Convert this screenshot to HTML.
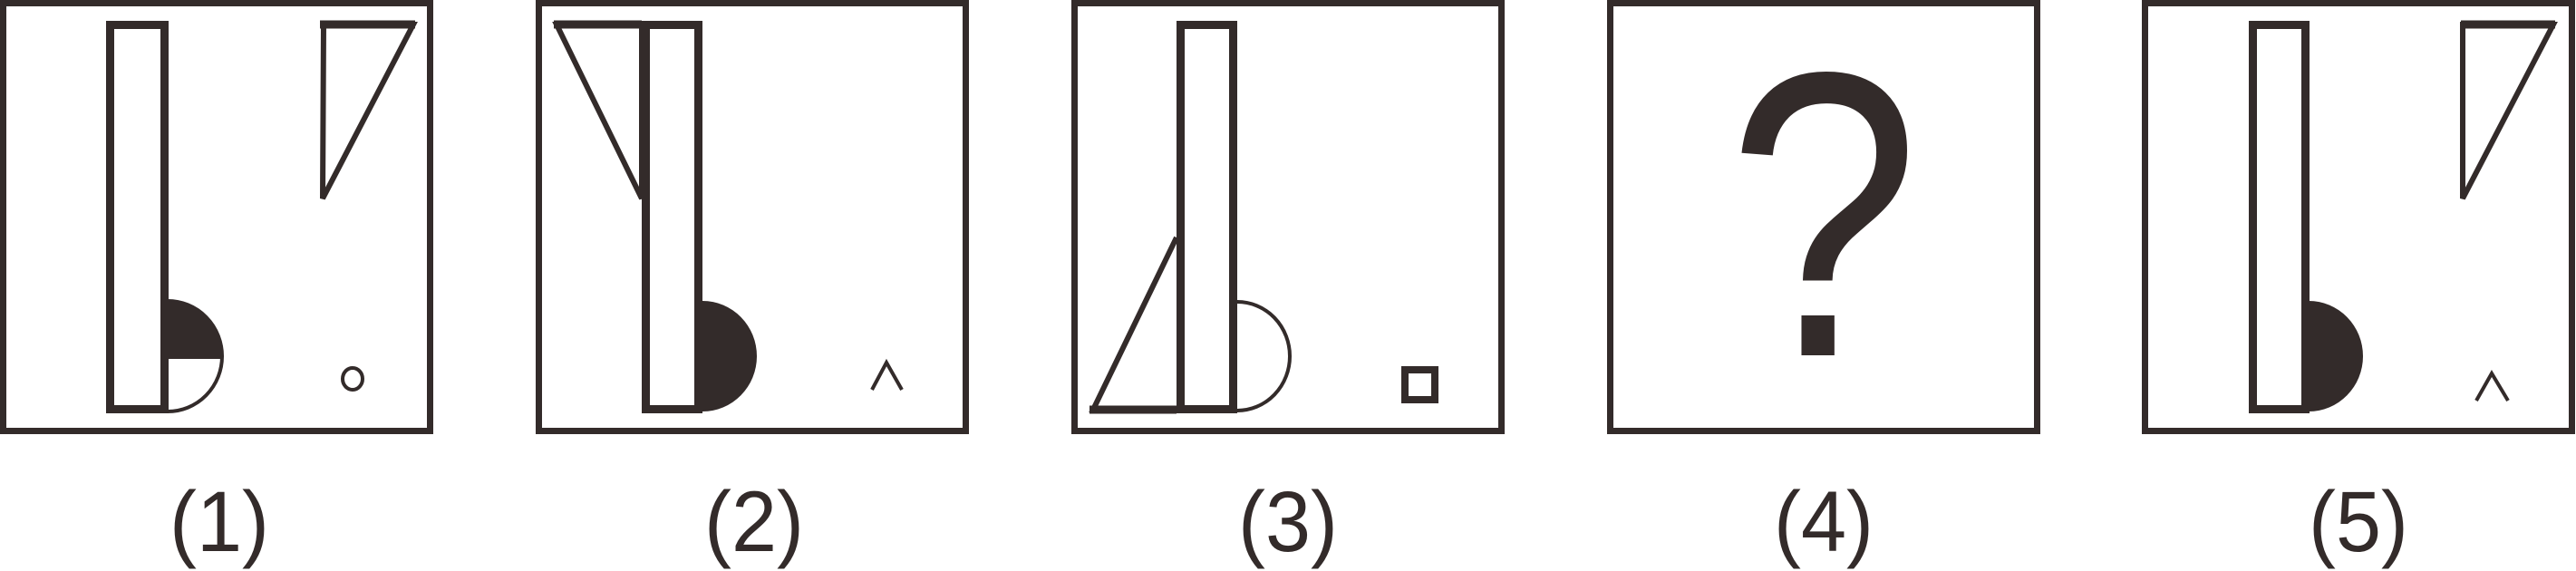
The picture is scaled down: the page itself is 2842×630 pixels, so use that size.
<!DOCTYPE html>
<html><head><meta charset="utf-8"><style>
html,body{margin:0;padding:0;background:#fff;}
svg{display:block;}
text{font-family:"Liberation Sans",sans-serif;fill:#332b2a;}
</style></head><body>
<svg width="2842" height="630" viewBox="0 0 2842 630">
<g stroke="#332b2a" fill="none">
<!-- Panel 1 -->
<g transform="translate(0,0)">
 <rect x="3.5" y="3.5" width="471" height="472" stroke-width="7" fill="#fff"/>
 <path d="M185,332 A60,61 0 0 1 185,454" stroke-width="4" fill="#fff"/>
 <path d="M185,332 A60,61 0 0 1 245,393 L185,393 Z" fill="#332b2a" stroke="none"/>
 <line x1="185" y1="394" x2="245" y2="394" stroke-width="4"/>
 <rect x="121.5" y="27.5" width="60" height="424" stroke-width="9" fill="#fff"/>
 <path d="M357,27 L456,27 L356,219 Z" stroke-width="6" stroke-linejoin="miter"/>
 <line x1="353" y1="27" x2="458" y2="27" stroke-width="9"/>
 <ellipse cx="389" cy="418" rx="11" ry="12" stroke-width="4"/>
</g>
<!-- Panel 2 -->
<g transform="translate(591,0)">
 <rect x="3.5" y="3.5" width="471" height="472" stroke-width="7" fill="#fff"/>
 <path d="M184,332 A60,61 0 0 1 184,454 Z" fill="#332b2a" stroke="none"/>
 <path d="M23,27 L117,27 L117,219 Z" stroke-width="6"/>
 <line x1="20" y1="27" x2="117" y2="27" stroke-width="9"/>
 <rect x="121.5" y="27.5" width="58" height="424" stroke-width="9" fill="#fff"/>
 <polyline points="371,430 387,400 404,430" stroke-width="4"/>
</g>
<!-- Panel 3 -->
<g transform="translate(1182,0)">
 <rect x="3.5" y="3.5" width="471" height="472" stroke-width="7" fill="#fff"/>
 <path d="M183,333 A58,60 0 0 1 183,453" stroke-width="4" fill="#fff"/>
 <path d="M116,262 L24,452 L116,452" stroke-width="6"/>
 <line x1="20" y1="452" x2="116" y2="452" stroke-width="9"/>
 <rect x="120.5" y="27.5" width="58" height="424" stroke-width="9" fill="#fff"/>
 <rect x="368" y="408" width="33" height="33" stroke-width="8" fill="#fff"/>
</g>
<!-- Panel 4 -->
<g transform="translate(1773,0)">
 <rect x="3.5" y="3.5" width="471" height="472" stroke-width="7" fill="#fff"/>
 <text transform="translate(239,392) scale(0.92,1.08)" x="0" y="0" font-size="415" text-anchor="middle" stroke="none">?</text>
</g>
<!-- Panel 5 -->
<g transform="translate(2363,0)">
 <rect x="3.5" y="3.5" width="471" height="472" stroke-width="7" fill="#fff"/>
 <path d="M184,332 A60,61 0 0 1 184,454 Z" fill="#332b2a" stroke="none"/>
 <rect x="122.5" y="27.5" width="58" height="424" stroke-width="9" fill="#fff"/>
 <path d="M354,27 L454,27 L354,219 Z" stroke-width="6"/>
 <line x1="352" y1="27" x2="456" y2="27" stroke-width="9"/>
 <polyline points="369,442 386,412 404,442" stroke-width="4"/>
</g>
</g>
<g font-size="90" text-anchor="middle">
 <text transform="translate(242,608) scale(1,1.05)">(1)</text>
 <text transform="translate(832,608) scale(1,1.05)">(2)</text>
 <text transform="translate(1421,608) scale(1,1.05)">(3)</text>
 <text transform="translate(2012,608) scale(1,1.05)">(4)</text>
 <text transform="translate(2602,608) scale(1,1.05)">(5)</text>
</g>
</svg>
</body></html>
